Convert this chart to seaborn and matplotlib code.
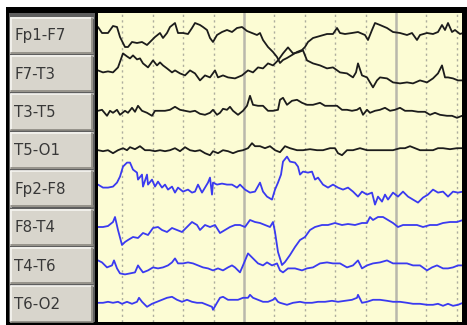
import numpy as np
import pandas as pd
import matplotlib
matplotlib.use("Agg")
import matplotlib.pyplot as plt
from matplotlib.patches import Rectangle
import seaborn as sns

# ---------------- data (time in samples, amplitude in display units, + = up) -------------
channels = ["Fp1-F7", "F7-T3", "T3-T5", "T5-O1", "Fp2-F8", "F8-T4", "T4-T6", "T6-O2"]
channel_colors = ["#1c1c1c"] * 4 + ["#3a3af0"] * 4

fp1_f7_t = [98,102,108,113,117,120,125,128,132,137,142,147,152,155,160,163,167,170,175,178,
            183,188,192,195,200,203,207,210,213,217,222,227,232,237,242,247,252,257,260,263,
            268,273,277,280,283,287,292,297,302,305,308,313,320,327,333,337,340,345,352,358,
            365,368,372,375,380,387,393,400,407,412,417,420,427,433,438,442,445,448,452,455,460,463]
fp1_f7_v = [8,2,2,9,8,-2,-12,-12,-7,-8,-7,-10,-5,-2,2,-3,2,8,12,2,
            2,1,7,12,10,8,5,-3,-7,0,3,5,3,7,8,4,2,0,2,-5,
            -12,-17,-22,-28,-25,-23,-20,-17,-15,-12,-7,-3,-1,1,1,7,2,1,2,3,
            0,-5,5,12,10,7,3,2,0,2,-5,0,2,1,3,10,5,12,3,5,1,2]

f7_t3_t = [98,103,108,113,118,123,127,130,133,137,140,143,148,153,157,160,163,167,172,175,
           180,185,190,195,200,205,210,215,218,223,228,235,242,248,253,258,263,268,273,278,
           283,288,293,298,303,307,313,320,327,333,340,347,353,356,358,362,367,370,373,377,
           380,387,393,400,407,413,420,427,433,438,442,445,448,453,458,463]
f7_t3_v = [3,1,2,1,6,20,17,15,18,14,15,10,6,13,8,11,8,5,1,3,
           0,-2,3,0,-7,-2,-4,3,-4,-2,-4,-5,-2,3,1,6,5,10,8,13,
           20,26,20,21,23,13,10,8,5,6,1,0,-4,1,10,-2,-4,-9,-14,-7,
           -4,-5,-9,-10,-9,-10,-7,-9,-5,0,8,-4,-4,-5,-7,-7]

t3_t5_t = [98,102,107,110,113,117,120,125,128,132,135,138,142,147,152,155,160,165,170,175,
           180,185,190,195,200,205,210,213,217,220,223,227,230,233,238,243,247,250,253,258,
           263,268,273,278,280,283,287,292,297,302,307,313,320,325,330,337,342,347,352,357,
           360,363,367,370,375,380,385,390,395,400,405,412,418,425,430,435,440,447,452,457,462]
t3_t5_v = [1,2,-4,1,-1,2,-3,1,-1,4,0,6,1,-1,-4,1,1,1,2,5,
           2,1,0,1,-2,-3,-1,2,-3,-1,3,2,5,1,-3,1,6,16,7,6,
           6,1,1,2,12,14,7,11,12,9,7,7,9,6,6,6,2,2,1,2,
           4,-3,2,-1,1,2,4,1,2,4,1,1,0,0,-3,-1,-3,-4,-4,-6,-4]

t5_o1_t = [98,103,108,113,118,123,127,130,135,140,145,150,155,160,165,170,175,180,185,190,
           195,200,205,210,213,218,223,228,233,238,243,248,252,255,260,265,270,275,280,285,
           290,297,303,310,317,323,330,335,338,342,347,353,360,367,373,380,387,393,400,405,
           410,415,420,427,433,438,443,450,457,463]
t5_o1_v = [0,-1,0,-3,0,2,0,3,1,4,0,0,-1,0,-1,0,2,-1,3,0,
           -1,0,-3,-5,-1,-3,0,-1,-3,-1,0,2,7,4,4,2,4,0,-2,4,
           2,0,0,1,0,0,2,2,-3,-5,0,0,2,0,0,0,0,0,2,2,
           4,2,0,0,0,2,2,1,2,2]

fp2_f8_t = [98,103,108,113,117,120,123,127,130,133,137,138,142,143,147,148,152,155,158,162,
            165,168,172,175,178,183,188,192,195,198,202,205,208,210,212,213,217,222,227,232,
            237,240,245,250,255,260,263,267,272,275,278,281,283,287,290,295,298,300,303,308,
            312,315,318,323,328,333,338,343,348,353,358,362,367,372,375,378,382,385,388,393,
            398,403,408,413,418,423,428,433,438,443,448,453,458,463]
fp2_f8_v = [4,1,1,2,6,12,22,26,26,19,16,9,14,2,14,4,9,2,7,1,
            4,-1,2,-4,1,-3,-1,-4,-3,4,-4,1,6,11,-6,6,4,5,4,4,
            1,4,-1,-4,-3,6,-3,-8,-11,-1,6,14,27,32,27,26,22,14,17,16,
            17,9,11,4,1,4,1,-1,1,-3,-8,-3,-6,-4,-16,-8,-13,-6,-11,-4,
            -8,-3,-8,-11,-14,-9,-6,-1,-4,-3,-8,-3,-4,-3]

f8_t4_t = [98,103,108,113,115,118,122,125,128,133,138,143,148,153,158,162,167,172,177,182,
           187,192,197,200,205,210,215,220,225,230,235,240,245,250,255,260,265,270,273,275,
           278,282,285,290,295,300,305,310,315,322,328,335,342,348,355,362,367,370,373,378,
           383,388,393,398,403,410,417,423,430,437,443,450,457,463]
f8_t4_v = [0,0,1,5,10,-3,-18,-15,-13,-10,-11,-6,-8,-1,0,-3,-5,-1,-3,-5,
           0,5,2,-3,2,0,2,-6,-3,0,2,2,0,7,5,4,2,0,5,-5,
           -25,-38,-35,-28,-20,-13,-10,-3,0,2,2,4,2,3,2,4,4,10,7,10,
           10,7,4,0,2,2,2,0,2,2,4,5,5,7]

t4_t6_t = [98,102,107,112,114,117,120,125,130,135,138,140,143,148,153,158,163,168,172,175,
           178,183,188,193,198,203,208,213,218,223,228,232,235,240,243,248,253,258,263,267,
           272,277,280,283,288,295,302,307,313,320,327,333,340,347,353,358,362,367,373,380,
           387,393,400,407,413,420,427,432,437,443,448,453,458,463]
t4_t6_v = [5,3,-2,0,5,-3,-8,-9,-8,-7,0,-3,-7,-5,-2,-3,-2,0,3,7,
           2,2,3,2,0,-2,-3,-5,-3,-5,-2,0,-2,-7,0,12,7,2,0,3,
           0,2,-5,-7,-3,-3,-5,-3,-2,2,3,2,2,-2,0,5,-3,0,2,3,
           5,2,2,2,0,0,-5,-2,0,-3,-3,-2,0,0]

t6_o2_t = [98,103,108,113,118,122,127,132,137,139,142,147,152,157,162,167,172,177,182,187,
           192,197,202,207,212,213,217,220,223,228,233,238,243,248,250,253,258,263,268,273,
           275,278,280,287,293,300,305,312,318,325,332,338,345,352,357,358,362,367,373,380,
           387,393,400,407,413,420,427,433,438,443,448,453,458,463]
t6_o2_v = [1,1,2,1,2,0,2,0,2,6,2,-3,0,2,4,6,7,4,2,4,
           2,1,1,-1,-3,-6,1,6,7,4,4,4,6,6,9,6,4,2,2,4,
           6,2,1,-1,1,2,1,1,2,2,3,2,3,4,6,9,1,2,4,4,
           3,2,2,1,0,0,-1,-1,0,-2,0,-2,-1,1]

traces_t = [fp1_f7_t, f7_t3_t, t3_t5_t, t5_o1_t, fp2_f8_t, f8_t4_t, t4_t6_t, t6_o2_t]
traces_v = [fp1_f7_v, f7_t3_v, t3_t5_v, t5_o1_v, fp2_f8_v, f8_t4_v, t4_t6_v, t6_o2_v]

# ---------------- layout constants (pixels) ----------------
W, H = 467, 325
row0, row_gap = 35.0, 38.4        # centre of first channel row, spacing between rows
plot_l, plot_r, plot_t, plot_b = 98, 462, 13, 322
grid_x0, grid_dx = 92.0, 30.4

sns.set_style("white")
fig = plt.figure(figsize=(W / 100, H / 100), dpi=100)
fig.patch.set_facecolor("white")

# ---- chrome: frame, label panel, buttons ----
bg = fig.add_axes([0, 0, 1, 1])
bg.set_xlim(0, W)
bg.set_ylim(H, 0)
bg.axis("off")
bg.add_patch(Rectangle((6, 7), W - 6, H - 7, facecolor="#000000", edgecolor="none"))
bg.add_patch(Rectangle((9, 13), 86, 309, facecolor="#5e5e5e", edgecolor="none"))
btn_h = 36.5
for i, name in enumerate(channels):
    top = 17 + row_gap * i
    bg.add_patch(Rectangle((10, top), 83, btn_h, facecolor="#d8d5cc", edgecolor="none"))
    # bevel
    bg.plot([10.5, 92.5], [top + 0.6, top + 0.6], color="#f6f5f1", lw=1.2)
    bg.plot([10.6, 10.6], [top + 0.5, top + btn_h - 0.5], color="#f6f5f1", lw=1.2)
    bg.plot([10.5, 92.5], [top + btn_h - 0.7, top + btn_h - 0.7], color="#8a8780", lw=1.2)
    bg.plot([92.4, 92.4], [top + 0.5, top + btn_h - 0.5], color="#8a8780", lw=1.2)
    bg.text(14.5, top + btn_h / 2 + 0.5, name, fontsize=10.8, color="#383838",
            va="center", ha="left", family="DejaVu Sans")

# ---- trace area ----
ax = fig.add_axes([plot_l / W, 1 - plot_b / H, (plot_r - plot_l) / W, (plot_b - plot_t) / H])
ax.set_facecolor("#fcfcd4")

for k in range(1, 13):
    gx = grid_x0 + grid_dx * k
    if k % 5 == 0:
        ax.axvline(gx, color="#b9b8ab", lw=1.8, zorder=1)
    else:
        ax.axvline(gx, color="#aeae9e", lw=1.0, ls=(0, (1.6, 2.4)), zorder=1)

rows = []
for i, (name, tt, vv) in enumerate(zip(channels, traces_t, traces_v)):
    centre = row0 + row_gap * i
    for t, v in zip(tt, vv):
        rows.append({"channel": name, "t": t, "y": centre - v})
df = pd.DataFrame(rows)

sns.lineplot(data=df, x="t", y="y", hue="channel", units="channel", estimator=None,
             sort=False, palette=dict(zip(channels, channel_colors)), linewidth=1.3,
             legend=False, ax=ax, zorder=3)

ax.set_xlim(plot_l, plot_r)
ax.set_ylim(plot_b, plot_t)
ax.set_xticks([])
ax.set_yticks([])
ax.set_xlabel("")
ax.set_ylabel("")
for s in ax.spines.values():
    s.set_visible(False)

fig.savefig("out.png", dpi=100, facecolor="white")
